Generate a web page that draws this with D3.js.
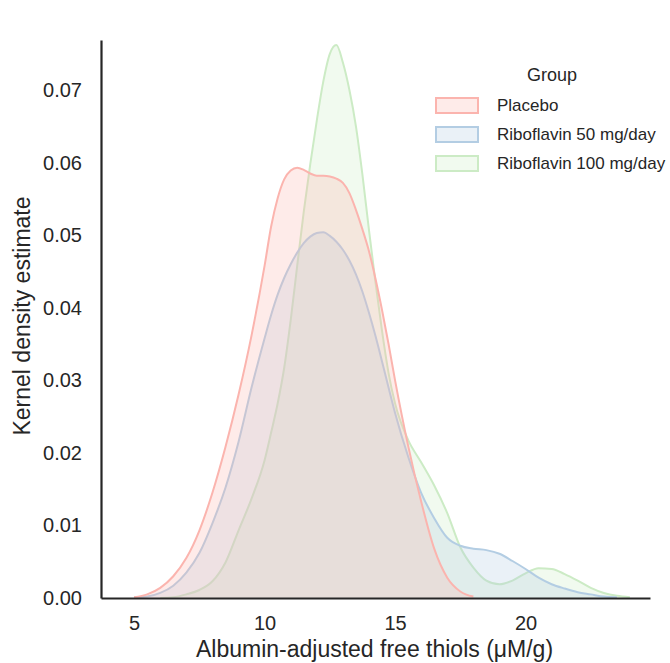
<!DOCTYPE html>
<html>
<head>
<meta charset="utf-8">
<script src="https://cdn.jsdelivr.net/npm/d3@7"></script>
<style>
  body { margin: 0; background: #fff; }
  text { font-family: "Liberation Sans", Arial, sans-serif; fill: #262626; }
</style>
</head>
<body>
<div class="chart"></div>
<script>
// density grid (µM/g) and KDE values
const xs = [4, 4.5, 5, 5.5, 6, 6.5, 7, 7.5, 8, 8.5, 9, 9.5,
    10, 10.25, 10.5, 10.75, 11, 11.25, 11.5, 11.75, 12, 12.25, 12.5, 12.75,
    13, 13.25, 13.5, 13.75, 14, 14.25, 14.5, 14.75, 15,
    15.5, 16, 16.5, 17, 17.5, 18, 18.5, 19, 19.5, 20, 20.5, 21, 21.5, 22, 22.5, 23, 23.5, 24]

const placebo = [null, null, 0.0001, 0.0005, 0.0014, 0.003, 0.0055, 0.0093, 0.0145, 0.0208, 0.028, 0.0362,
    0.0458, 0.0512, 0.0551, 0.0577, 0.0589, 0.0593, 0.059, 0.0585, 0.0582, 0.0582, 0.0581, 0.0578,
    0.0572, 0.0558, 0.0535, 0.0508, 0.0478, 0.044, 0.0397, 0.035, 0.03,
    0.021, 0.0133, 0.0068, 0.0028, 0.0009, 0.0002, null, null, null, null, null, null, null, null, null, null, null, null]

const ribo50 = [null, null, 0.0001, 0.0002, 0.0007, 0.0017, 0.0035, 0.0062, 0.0103, 0.0152, 0.0215, 0.029,
    0.0358, 0.039, 0.0418, 0.0441, 0.046, 0.0476, 0.0489, 0.0498, 0.0503, 0.0504, 0.0499, 0.0491,
    0.048, 0.0465, 0.0446, 0.0422, 0.0393, 0.0361, 0.0326, 0.029, 0.0255,
    0.0195, 0.0145, 0.011, 0.0083, 0.0072, 0.0068, 0.0066, 0.0061, 0.0051, 0.004, 0.0028, 0.0019, 0.0013, 0.0008, 0.0005, 0.0002, 0.0001, null]

const ribo100 = [null, null, null, null, 0, 0.0001, 0.0005, 0.0011, 0.0023, 0.0049, 0.0093, 0.0137,
    0.019, 0.0228, 0.0268, 0.0317, 0.0383, 0.0458, 0.0532, 0.0598, 0.0658, 0.0712, 0.0750, 0.0762,
    0.0738, 0.07, 0.065, 0.0583, 0.0507, 0.0435, 0.0368, 0.031, 0.0268,
    0.0218, 0.0187, 0.0155, 0.0117, 0.007, 0.0042, 0.0024, 0.0019, 0.0024, 0.0034, 0.0041, 0.004, 0.0033, 0.0024, 0.0014, 0.0007, 0.0003, 0.0001]

const groups = ['Placebo', 'Riboflavin 50 mg/day', 'Riboflavin 100 mg/day']
const colors = ['#fbb4ae', '#b3cde3', '#ccebc5']
const xTicks = [5, 10, 15, 20]
const yTicks = [0, 0.01, 0.02, 0.03, 0.04, 0.05, 0.06, 0.07]

const series = [placebo, ribo50, ribo100]

const svg = d3.select('.chart')
    .append('svg')
        .attr('width', 670)
        .attr('height', 663)
        .style('display', 'block')

const x = d3.scaleLinear().domain([3.73, 24.77]).range([101, 650])
const y = d3.scaleLinear().domain([0, 0.0769]).range([598, 40])

const area = d3.area()
    .defined((d) => d[1] !== null)
    .x((d) => x(d[0]))
    .y0(y(0))
    .y1((d) => y(d[1]))
    .curve(d3.curveMonotoneX)

const line = area.lineY1()

// seaborn draws hue levels in reverse order
const order = [2, 1, 0]
const plot = svg.append('g').attr('id', 'densities')
order.forEach((k) => {
    const pts = xs.map((v, i) => [v, series[k][i]])
    plot.append('path')
        .attr('d', area(pts))
        .attr('fill', colors[k])
        .attr('fill-opacity', 0.27)
    plot.append('path')
        .attr('d', line(pts))
        .attr('fill', 'none')
        .attr('stroke', colors[k])
        .attr('stroke-width', 2)
})

//axes
const xAxis = svg.append('g')
    .attr('transform', `translate(0, ${y(0)})`)
    .call(d3.axisBottom(x).tickValues(xTicks).tickSize(0).tickPadding(18))
xAxis.select('.domain').attr('stroke', '#262626').attr('stroke-width', 2.2)
xAxis.selectAll('text').style('font-size', '20px').attr('fill', '#262626')

const yAxis = svg.append('g')
    .attr('transform', `translate(${x.range()[0]}, 0)`)
    .call(d3.axisLeft(y).tickValues(yTicks).tickSize(0).tickPadding(19)
        .tickFormat(d3.format('.2f')))
yAxis.select('.domain').attr('stroke', '#262626').attr('stroke-width', 2.2)
yAxis.selectAll('text').style('font-size', '20px').attr('fill', '#262626')

svg.append('text')
    .attr('x', (x.range()[0] + x.range()[1]) / 2 - 1)
    .attr('y', 657)
    .attr('text-anchor', 'middle')
    .style('font-size', '23px')
    .text('Albumin-adjusted free thiols (μM/g)')

svg.append('text')
    .attr('transform', `translate(30, ${(y.range()[0] + y.range()[1]) / 2 - 3}) rotate(-90)`)
    .attr('text-anchor', 'middle')
    .style('font-size', '23px')
    .text('Kernel density estimate')

//legend
const legend = svg.append('g')
    .attr('id', 'legend')
    .attr('transform', 'translate(435, 0)')

legend.append('text')
    .attr('x', 117)
    .attr('y', 81)
    .attr('text-anchor', 'middle')
    .style('font-size', '18px')
    .text('Group')

const rows = legend.selectAll('g.row')
    .data(groups)
    .enter()
    .append('g')
        .attr('class', 'row')
        .attr('transform', (d, i) => `translate(0, ${105 + i * 29})`)

rows.append('rect')
    .attr('x', 1)
    .attr('y', -7)
    .attr('width', 42)
    .attr('height', 15)
    .attr('fill', (d, i) => colors[i])
    .attr('fill-opacity', 0.27)
    .attr('stroke', (d, i) => colors[i])
    .attr('stroke-width', 2)

rows.append('text')
    .attr('x', 62)
    .attr('y', 6)
    .style('font-size', '17px')
    .text((d) => d)
</script>
</body>
</html>
